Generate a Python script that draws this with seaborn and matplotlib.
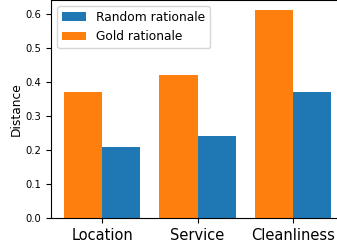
import pandas as pd
import matplotlib
matplotlib.use("Agg")
import matplotlib.pyplot as plt
import seaborn as sns

categories = ["Location", "Service", "Cleanliness"]
gold = [0.37, 0.42, 0.61]
random_ = [0.21, 0.24, 0.37]

df = pd.DataFrame({
    "aspect": categories * 2,
    "distance": gold + random_,
    "kind": ["Gold rationale"] * 3 + ["Random rationale"] * 3,
})

plt.rcParams["font.family"] = ["DejaVu Sans"]

fig = plt.figure(figsize=(3.37, 2.43), dpi=100)
# axes run a little past the right edge, like the cropped original
ax = fig.add_axes([51 / 337, 25 / 243, 293 / 337, 218 / 243])

palette = {"Random rationale": "#1f77b4", "Gold rationale": "#ff7f0e"}
sns.barplot(data=df, x="aspect", y="distance", hue="kind",
            hue_order=["Gold rationale", "Random rationale"],
            palette=palette, saturation=1, width=0.8, linewidth=0, ax=ax)

ax.set_xlim(-0.54, 2.54)
ax.set_ylim(0, 0.6405)
ax.set_xlabel("")
ax.set_ylabel("Distance", fontsize=8.8, labelpad=2)
ax.tick_params(axis="x", labelsize=10.5)
ax.tick_params(axis="y", labelsize=7.2)

handles, labels = ax.get_legend_handles_labels()
ax.legend(handles[::-1], labels[::-1], loc="upper left", fontsize=8.8)

fig.savefig("out.png", dpi=100)
